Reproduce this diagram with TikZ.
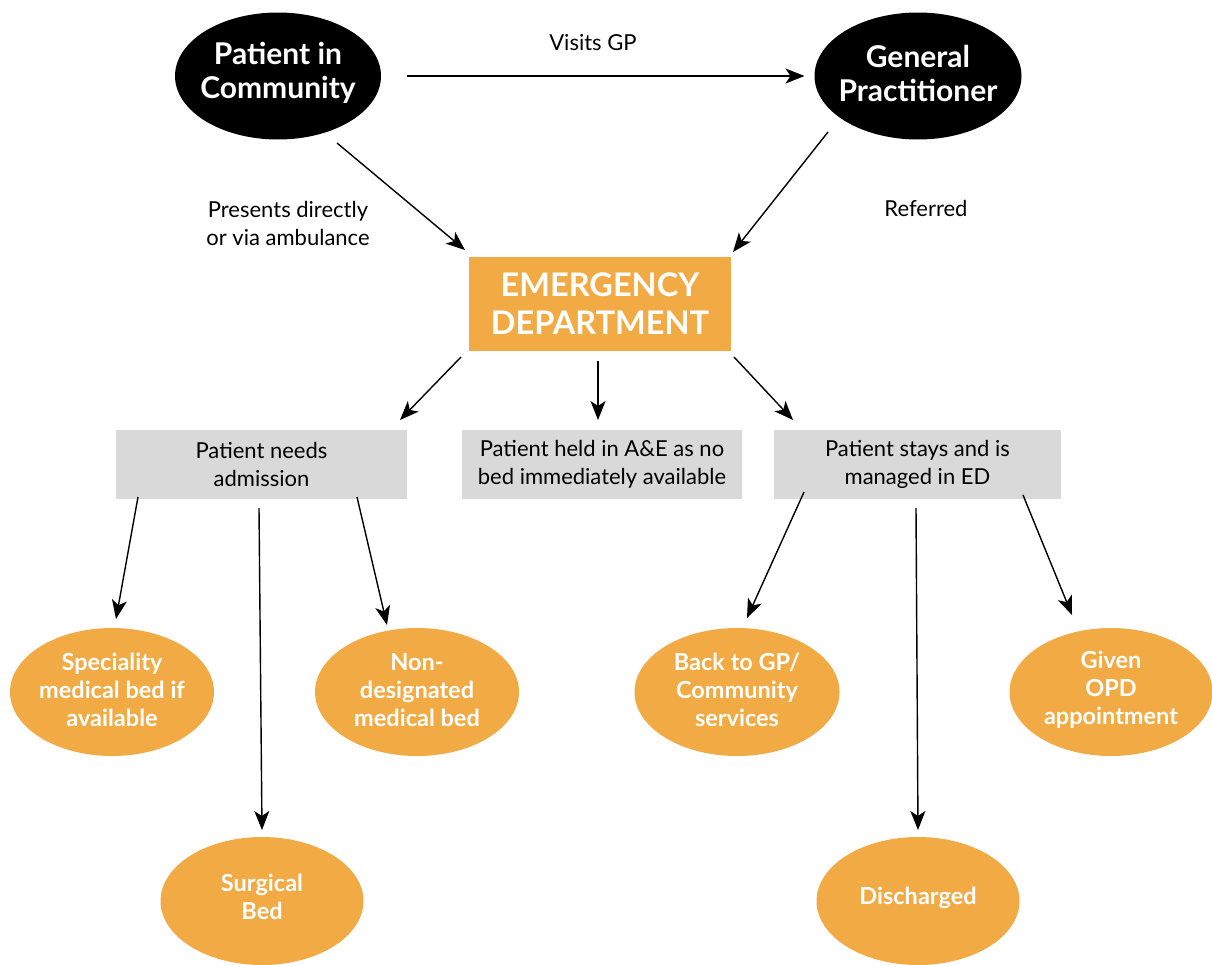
\documentclass[tikz,border=0pt]{standalone}
\usepackage{fontspec}
\setmainfont{Lato}
\usetikzlibrary{arrows.meta,shapes.geometric}
\definecolor{edorange}{RGB}{241,170,68}
\definecolor{boxgrey}{RGB}{217,217,217}
\begin{document}
\begin{tikzpicture}[x=1pt,y=-1pt,
  blackell/.style={ellipse, fill=black, inner sep=0pt, outer sep=0pt, minimum width=206pt, minimum height=127pt},
  blacktext/.style={text=white, align=center, inner sep=0pt, font=\bfseries\fontsize{30}{34}\selectfont},
  orell/.style={ellipse, fill=edorange, inner sep=0pt, outer sep=0pt, minimum width=204pt, minimum height=128pt},
  ortext/.style={text=white, align=center, inner sep=0pt, font=\bfseries\fontsize{23.5}{28}\selectfont},
  edbox/.style={rectangle, fill=edorange, text=white, align=center, inner sep=0pt, outer sep=0pt, minimum width=262pt, minimum height=94pt, font=\bfseries\fontsize{32.5}{38}\selectfont},
  greybox/.style={rectangle, fill=boxgrey, align=center, inner sep=0pt, outer sep=0pt, minimum height=69pt, font=\fontsize{22}{28}\selectfont},
  lbl/.style={align=center, inner sep=0pt, font=\fontsize{22}{28}\selectfont},
  conn/.style={-{Stealth[length=19pt,width=15pt,inset=5pt]}, line width=1.4pt, black}
]
\useasboundingbox (0,0) rectangle (1212,964);

% top ellipses
\node[blackell] (pc) at (278,76) {};
\node[blacktext] (pct) at ([yshift=3pt]pc.center) {Patient in\\Community};
\node[blackell, minimum width=207pt] (gp) at (918,76) {};
\node[blacktext] (gpt) at ([yshift=3pt]gp.center) {General\\Practitioner};

% emergency department
\node[edbox] (ed) at (600,304) {EMERGENCY\\DEPARTMENT};

% grey boxes
\node[greybox, minimum width=291pt] (adm) at (261.5,464.5) {Patient needs\\admission};
\node[greybox, minimum width=280pt] (held) at (602,464.5) {Patient held in A\&E as no\\bed immediately available};
\node[greybox, minimum width=287pt] (stay) at (917.5,464.5) {Patient stays and is\\managed in ED};

% outcome ellipses
\node[orell] (spec) at (112,692) {};
\node[ortext] at ([yshift=2pt]spec.center) {Speciality\\medical bed if\\available};
\node[orell] (nond) at (417,692) {};
\node[ortext] at ([yshift=2pt]nond.center) {Non-\\designated\\medical bed};
\node[orell, minimum width=203pt] (surg) at (262,901) {};
\node[ortext] at ([yshift=4pt]surg.center) {Surgical\\Bed};
\node[orell, minimum width=205pt] (back) at (737,692) {};
\node[ortext] at ([yshift=2pt]back.center) {Back to GP/\\Community\\services};
\node[orell, minimum width=203pt] (disc) at (918,901) {};
\node[ortext] at ([yshift=3pt]disc.center) {Discharged};
\node[orell, minimum width=203pt] (opd) at (1111,692) {};
\node[ortext] at ([yshift=2pt]opd.center) {Given\\OPD\\appointment};

% labels
\node[lbl] (lvisit) at (593,43) {Visits GP};
\node[lbl] (lpres) at (288,223) {Presents directly\\or via ambulance};
\node[lbl] (lref) at (926,208) {Referred};

% connectors
\draw[conn] ([shift={(26,0)}]pc.east) -- ([shift={(-10,0)}]gp.west);
\draw[conn] ([shift={(59,67)}]pc.center) -- ([shift={(-4,-7)}]ed.north west);
\draw[conn] ([shift={(-90,56)}]gp.center) -- ([shift={(2,-5)}]ed.north east);

\draw[conn] ([shift={(-8,6)}]ed.south west) -- ([shift={(-7,-10)}]adm.north east);
\draw[conn] ([shift={(-2,10)}]ed.south) -- ([shift={(-4,-10)}]held.north);
\draw[conn] ([shift={(3,6)}]ed.south east) -- ([shift={(19,-10)}]stay.north west);

\draw[conn] ([shift={(22,-2)}]adm.south west) -- ([shift={(4,-9)}]spec.north);
\draw[conn] ([shift={(-2.5,9)}]adm.south) -- ([shift={(0,-7)}]surg.north);
\draw[conn] ([shift={(-50,-2)}]adm.south east) -- ([shift={(-30,-3)}]nond.north);

\draw[conn] ([shift={(30,-7)}]stay.south west) -- ([shift={(10,-10)}]back.north);
\draw[conn] ([shift={(-1.5,9)}]stay.south) -- ([shift={(0,-7)}]disc.north);
\draw[conn] ([shift={(-38,-4)}]stay.south east) -- ([shift={(-39,-13)}]opd.north);
\end{tikzpicture}
\end{document}
